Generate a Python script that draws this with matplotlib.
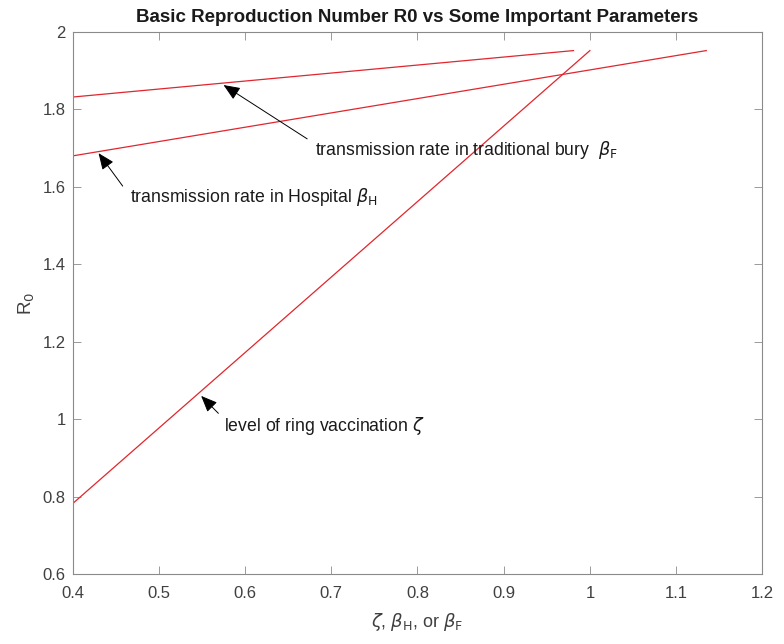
import matplotlib
matplotlib.use("Agg")
import matplotlib.pyplot as plt

# parameter ranges (endpoints) and the resulting R0
zeta_x = [0.40, 1.00]
zeta_r0 = [0.782, 1.952]
beta_h_x = [0.40, 1.135]
beta_h_r0 = [1.680, 1.952]
beta_f_x = [0.40, 0.981]
beta_f_r0 = [1.832, 1.952]

# annotations: label, arrow head (x, y), arrow tail (x, y), text anchor (x, y)
notes = [
    (r"transmission rate in traditional bury  $\beta_{\rm F}$",
     (0.575, 1.863), (0.672, 1.724), (0.681, 1.695)),
    (r"transmission rate in Hospital $\beta_{\rm H}$",
     (0.430, 1.687), (0.458, 1.602), (0.466, 1.574)),
    (r"level of ring vaccination $\zeta$",
     (0.549, 1.060), (0.569, 1.015), (0.575, 0.982)),
]

x_ticks = [0.4, 0.5, 0.6, 0.7, 0.8, 0.9, 1.0, 1.1, 1.2]
x_tick_labels = ["0.4", "0.5", "0.6", "0.7", "0.8", "0.9", "1", "1.1", "1.2"]
y_ticks = [0.6, 0.8, 1.0, 1.2, 1.4, 1.6, 1.8, 2.0]
y_tick_labels = ["0.6", "0.8", "1", "1.2", "1.4", "1.6", "1.8", "2"]

plt.rcParams["font.family"] = ["Liberation Sans", "DejaVu Sans"]
plt.rcParams["mathtext.fontset"] = "dejavusans"

spine_grey = "#8a8a8a"
label_grey = "#404040"
fig = plt.figure(figsize=(7.84, 6.44), dpi=100)
ax = fig.add_axes([72.7 / 784, 70 / 644, 689.6 / 784, 542 / 644])

red = "#e0262e"
ax.plot(zeta_x, zeta_r0, color=red, lw=0.9)
ax.plot(beta_h_x, beta_h_r0, color=red, lw=0.9)
ax.plot(beta_f_x, beta_f_r0, color=red, lw=0.9)

for label, head, tail, spot in notes:
    ax.annotate(
        "", xy=head, xytext=tail,
        arrowprops=dict(arrowstyle="-|>,head_length=1.0,head_width=0.42",
                        color="black", lw=0.7, shrinkA=0, shrinkB=0),
    )
    ax.text(spot[0], spot[1], label, fontsize=12.7, ha="left",
            va="center", color="#1a1a1a")

ax.set_xlim(0.4, 1.2)
ax.set_ylim(0.6, 2.0)
ax.set_xticks(x_ticks)
ax.set_xticklabels(x_tick_labels)
ax.set_yticks(y_ticks)
ax.set_yticklabels(y_tick_labels)

ax.tick_params(direction="in", top=True, right=True, length=6, width=0.6,
               labelsize=12, color=spine_grey, labelcolor=label_grey, pad=5)
ax.tick_params(axis="x", pad=9)
for spine in ax.spines.values():
    spine.set_color(spine_grey)
    spine.set_linewidth(0.8)

ax.set_xlabel(r"$\zeta$, $\beta_{\rm H}$, or $\beta_{\rm F}$", fontsize=13,
              color=label_grey, labelpad=7)
ax.set_ylabel(r"R$_0$", fontsize=13.5, color=label_grey, labelpad=4)
ax.set_title("Basic Reproduction Number R0 vs Some Important Parameters",
             fontsize=13.5, fontweight="bold", pad=7, color="#1a1a1a")

fig.savefig("out.png", dpi=100)
